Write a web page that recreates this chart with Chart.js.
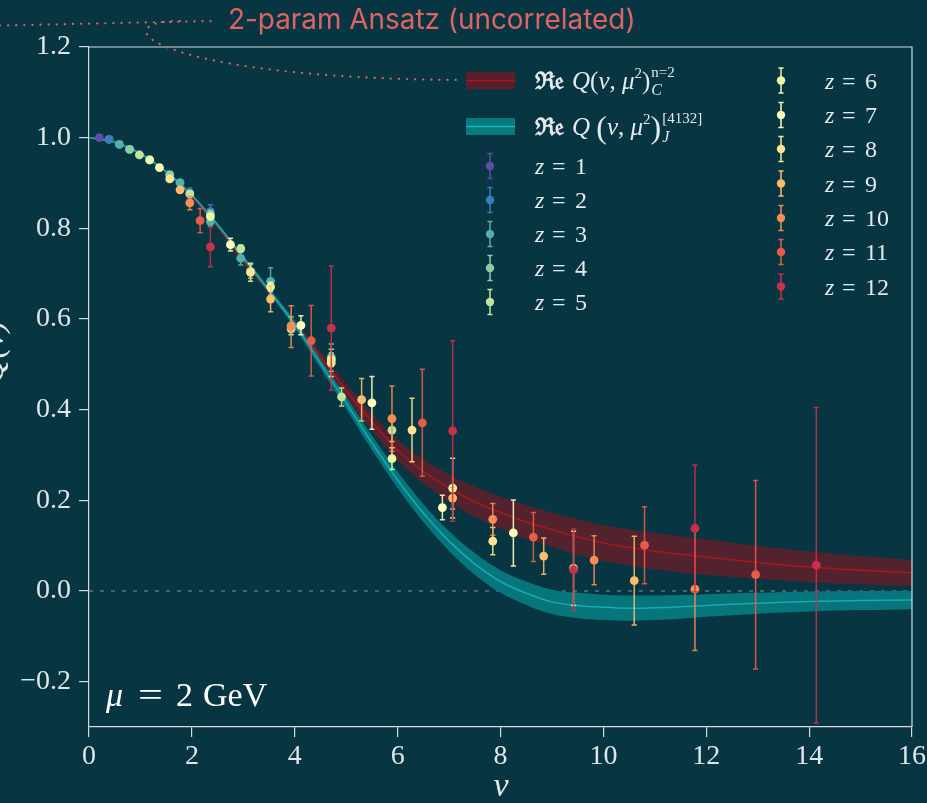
<!DOCTYPE html>
<html lang="es">
<head>
<meta charset="utf-8">
<title>Q(nu) - mu = 2 GeV</title>
<script src="https://cdn.jsdelivr.net/npm/chart.js@4.4.1/dist/chart.umd.min.js"></script>
<style>
  html, body { margin: 0; padding: 0; background: #073642; }
  #contenedor { width: 927px; height: 803px; }
</style>
</head>
<body>
<div id="contenedor"><canvas id="plot" width="927" height="803"></canvas></div>
<script>
// Ticks de los ejes
const xTicks = [0, 2, 4, 6, 8, 10, 12, 14, 16];
const yTicks = [-0.2, 0, 0.2, 0.4, 0.6, 0.8, 1.0, 1.2];

// Separaciones z = 1..12 y sus colores (Spectral)
const zLabels = ['1', '2', '3', '4', '5', '6', '7', '8', '9', '10', '11', '12'];
const zColors = ['#5e4fa2', '#3a7eb8', '#55b0ab', '#89cfa5', '#c1e59d', '#edf8a3',
                 '#fffcbc', '#fee491', '#fdbb6c', '#f88c51', '#e65d47', '#c8304c'];

// nu de cada punto, por z (momentos p = 1..6)
const nuZ = [
  [0.20, 0.39, 0.59, 0.79, 0.98, 1.18],
  [0.39, 0.79, 1.18, 1.57, 1.96, 2.36],
  [0.59, 1.18, 1.77, 2.36, 2.95, 3.53],
  [0.79, 1.57, 2.36, 3.14, 3.93, 4.71],
  [0.98, 1.96, 2.95, 3.93, 4.91, 5.89],
  [1.18, 2.36, 3.53, 4.71, 5.89, 7.07],
  [1.37, 2.75, 4.12, 5.50, 6.87, 8.25],
  [1.57, 3.14, 4.71, 6.28, 7.85, 9.42],
  [1.77, 3.53, 5.30, 7.07, 8.84, 10.60],
  [1.96, 3.93, 5.89, 7.85, 9.82, 11.78],
  [2.16, 4.32, 6.48, 8.64, 10.80, 12.96],
  [2.36, 4.71, 7.07, 9.42, 11.78, 14.14]
];
// valor central de Q
const qZ = [
  [1.000, 0.996, 0.985, 0.974, 0.962, 0.951],
  [0.996, 0.974, 0.951, 0.918, 0.878, 0.837],
  [0.985, 0.951, 0.901, 0.815, 0.734, 0.683],
  [0.974, 0.918, 0.830, 0.705, 0.585, 0.515],
  [0.962, 0.876, 0.755, 0.578, 0.428, 0.355],
  [0.951, 0.826, 0.671, 0.510, 0.292, 0.227],
  [0.934, 0.764, 0.586, 0.415, 0.184, 0.128],
  [0.909, 0.703, 0.503, 0.355, 0.110, 0.050],
  [0.885, 0.644, 0.422, 0.205, 0.077, 0.023],
  [0.856, 0.583, 0.380, 0.158, 0.068, 0.004],
  [0.817, 0.552, 0.371, 0.119, 0.101, 0.036],
  [0.759, 0.580, 0.353, 0.047, 0.138, 0.057]
];
// error de cada punto
const errZ = [
  [0.002, 0.002, 0.002, 0.003, 0.003, 0.003],
  [0.002, 0.003, 0.005, 0.008, 0.011, 0.015],
  [0.002, 0.004, 0.006, 0.010, 0.015, 0.030],
  [0.003, 0.005, 0.010, 0.015, 0.020, 0.030],
  [0.003, 0.005, 0.008, 0.012, 0.020, 0.025],
  [0.003, 0.006, 0.010, 0.015, 0.024, 0.066],
  [0.003, 0.014, 0.021, 0.058, 0.027, 0.073],
  [0.004, 0.020, 0.030, 0.070, 0.030, 0.082],
  [0.005, 0.028, 0.047, 0.024, 0.040, 0.098],
  [0.015, 0.046, 0.072, 0.035, 0.054, 0.135],
  [0.027, 0.078, 0.118, 0.054, 0.085, 0.208],
  [0.044, 0.137, 0.199, 0.090, 0.140, 0.348]
];

// Bandas de los ajustes
const bandNu   = [0, 0.5, 1, 1.5, 2, 2.5, 3, 3.5, 4, 4.5, 5, 5.5, 6, 6.5, 7, 7.5, 8, 8.5, 9, 9.5, 10, 10.5, 11, 11.5, 12, 13, 14, 15, 16];
const redMid   = [1.0, 0.990, 0.965, 0.924, 0.870, 0.803, 0.728, 0.660, 0.592, 0.517, 0.442, 0.373, 0.311, 0.264, 0.227, 0.197, 0.173, 0.152, 0.135, 0.119, 0.106, 0.096, 0.088, 0.081, 0.075, 0.063, 0.053, 0.046, 0.040];
const redHalf  = [0.002, 0.002, 0.003, 0.003, 0.003, 0.004, 0.005, 0.006, 0.008, 0.011, 0.015, 0.019, 0.023, 0.027, 0.030, 0.033, 0.035, 0.037, 0.038, 0.039, 0.039, 0.040, 0.040, 0.040, 0.039, 0.036, 0.034, 0.031, 0.029];
const tealMid  = [1.0, 0.990, 0.965, 0.925, 0.873, 0.808, 0.735, 0.663, 0.588, 0.502, 0.415, 0.327, 0.245, 0.172, 0.110, 0.060, 0.021, -0.005, -0.024, -0.032, -0.036, -0.038, -0.037, -0.035, -0.032, -0.027, -0.023, -0.021, -0.020];
const tealHalf = [0.002, 0.002, 0.003, 0.003, 0.003, 0.004, 0.005, 0.006, 0.008, 0.010, 0.013, 0.016, 0.018, 0.020, 0.022, 0.024, 0.025, 0.026, 0.027, 0.028, 0.028, 0.028, 0.027, 0.026, 0.025, 0.023, 0.022, 0.021, 0.020];

const AXIS = '#d3dbdd';
const TEXT = '#e4eaec';
const SERIF = '"Liberation Serif", "DejaVu Serif", serif';

let puntos = (nu, val) => nu.map((v, i) => ({x: v, y: val[i]}));
let desplazar = (mid, half, s) => bandNu.map((v, i) => ({x: v, y: mid[i] + s * half[i]}));

let datasets = [
  {type: 'line', data: desplazar(redMid, redHalf, -1), borderWidth: 0, pointRadius: 0, tension: 0.35, fill: false, order: 40},
  {type: 'line', data: desplazar(redMid, redHalf, 1), borderWidth: 0, pointRadius: 0, tension: 0.35, fill: '-1', backgroundColor: '#52232e', order: 40},
  {type: 'line', data: puntos(bandNu, redMid), borderColor: '#a8161f', borderWidth: 1.6, pointRadius: 0, tension: 0.35, fill: false, order: 39},
  {type: 'line', data: desplazar(tealMid, tealHalf, -1), borderWidth: 0, pointRadius: 0, tension: 0.35, fill: false, order: 38},
  {type: 'line', data: desplazar(tealMid, tealHalf, 1), borderWidth: 0, pointRadius: 0, tension: 0.35, fill: '-1', backgroundColor: '#07767c', order: 38},
  {type: 'line', data: puntos(bandNu, tealMid), borderColor: '#17aab0', borderWidth: 1.5, pointRadius: 0, tension: 0.35, fill: false, order: 37}
];

zLabels.forEach((z, k) => {
  datasets.push({
    type: 'scatter',
    label: 'z = ' + z,
    data: puntos(nuZ[k], qZ[k]),
    errores: errZ[k],
    backgroundColor: zColors[k],
    pointRadius: 4.4,
    pointBorderWidth: 0,
    order: 13 - (k + 1)
  });
});

// Barras de error: se dibujan justo antes de los puntos de cada serie
const barrasError = {
  id: 'barrasError',
  beforeDatasetDraw(chart, args) {
    const ds = chart.data.datasets[args.index];
    if (!ds.errores) return;
    const {ctx, scales: {x, y}} = chart;
    ctx.save();
    ctx.strokeStyle = ds.backgroundColor;
    ctx.globalAlpha = 0.9;
    ctx.lineWidth = 1.5;
    ds.data.forEach((p, i) => {
      const px = x.getPixelForValue(p.x);
      const top = y.getPixelForValue(p.y + ds.errores[i]);
      const bot = y.getPixelForValue(p.y - ds.errores[i]);
      ctx.beginPath();
      ctx.moveTo(px, top); ctx.lineTo(px, bot);
      ctx.moveTo(px - 2.6, top); ctx.lineTo(px + 2.6, top);
      ctx.moveTo(px - 2.6, bot); ctx.lineTo(px + 2.6, bot);
      ctx.stroke();
    });
    ctx.restore();
  }
};

let marcador = (ctx, x, y, color) => {
  ctx.save();
  ctx.strokeStyle = color;
  ctx.fillStyle = color;
  ctx.lineWidth = 1.5;
  ctx.beginPath();
  ctx.moveTo(x, y - 12.5); ctx.lineTo(x, y + 12.5);
  ctx.moveTo(x - 2.6, y - 12.5); ctx.lineTo(x + 2.6, y - 12.5);
  ctx.moveTo(x - 2.6, y + 12.5); ctx.lineTo(x + 2.6, y + 12.5);
  ctx.stroke();
  ctx.beginPath();
  ctx.arc(x, y, 4.2, 0, 2 * Math.PI);
  ctx.fill();
  ctx.restore();
};

let etiquetaZ = (ctx, x, y, z) => {
  ctx.fillStyle = TEXT;
  ctx.font = 'italic 24px ' + SERIF;
  ctx.fillText('z', x, y + 8);
  ctx.font = '24px ' + SERIF;
  ctx.fillText('=', x + 17, y + 8);
  ctx.fillText(z, x + 40, y + 8);
};

// Escribe trozos de texto uno tras otro: [texto, fuente, desplazamiento vertical]
let trozos = (ctx, x, y, lista) => {
  lista.forEach(([t, f, dy]) => {
    ctx.font = f;
    ctx.fillText(t, x, y + (dy || 0));
    x += ctx.measureText(t).width;
  });
  return x;
};

const decoracion = {
  id: 'decoracion',
  beforeDatasetsDraw(chart) {
    const {ctx, chartArea: a, scales: {y}} = chart;
    const y0 = y.getPixelForValue(0);
    ctx.save();
    ctx.strokeStyle = '#7d9197';
    ctx.lineWidth = 1;
    ctx.setLineDash([4, 7]);
    ctx.beginPath();
    ctx.moveTo(a.left, y0); ctx.lineTo(a.right, y0);
    ctx.stroke();
    ctx.restore();
  },
  afterDraw(chart) {
    const {ctx, chartArea: a} = chart;
    ctx.save();
    // ejes superior y derecho
    ctx.strokeStyle = AXIS;
    ctx.lineWidth = 1.2;
    ctx.beginPath();
    ctx.moveTo(a.left, a.top); ctx.lineTo(a.right, a.top); ctx.lineTo(a.right, a.bottom);
    ctx.stroke();

    // leyenda: bandas
    ctx.fillStyle = '#5a1f2b';
    ctx.fillRect(466, 72, 49, 17);
    ctx.strokeStyle = '#b3141c'; ctx.lineWidth = 1.6;
    ctx.beginPath(); ctx.moveTo(466, 80.5); ctx.lineTo(515, 80.5); ctx.stroke();
    ctx.fillStyle = '#077a80';
    ctx.fillRect(466, 118, 49, 17);
    ctx.strokeStyle = '#19b5bb';
    ctx.beginPath(); ctx.moveTo(466, 126.5); ctx.lineTo(515, 126.5); ctx.stroke();

    ctx.fillStyle = TEXT;
    ctx.textAlign = 'left';
    ctx.textBaseline = 'alphabetic';
    ctx.font = 'bold 24px "DejaVu Serif", serif';
    ctx.fillText('ℜ𝔢', 535, 89);
    ctx.fillText('ℜ𝔢', 535, 135);

    const it = 'italic 25px ' + SERIF, up = '25px ' + SERIF, sm = '15px ' + SERIF, smi = 'italic 16px ' + SERIF;
    let xr = trozos(ctx, 572, 89, [['Q', it], ['(', up], ['ν', it], [', ', up], ['μ', it], ['2', sm, -11], [')', up]]);
    trozos(ctx, xr + 1, 89, [['n=2', sm, -12]]);
    trozos(ctx, xr + 1, 89, [['C', smi, 6]]);

    let xt = trozos(ctx, 572, 135, [['Q', it], [' ', up], ['(', '32px ' + SERIF, 3], ['ν', it], [', ', up], ['μ', it], ['2', sm, -11], [')', '32px ' + SERIF, 3]]);
    trozos(ctx, xt + 1, 135, [['[4132]', sm, -12]]);
    trozos(ctx, xt + 1, 135, [['J', smi, 7]]);

    // leyenda: series z
    const filas1 = [166, 200, 234, 268, 302];
    const filas2 = [80.5, 115, 149, 183.5, 218, 252, 286.5];
    zLabels.forEach((z, k) => {
      const enPrimera = k < 5;
      const yy = enPrimera ? filas1[k] : filas2[k - 5];
      marcador(ctx, enPrimera ? 490 : 781, yy, zColors[k]);
      etiquetaZ(ctx, enPrimera ? 535 : 825, yy, z);
    });

    // mu = 2 GeV
    ctx.fillStyle = '#ffffff';
    ctx.font = 'italic 34px ' + SERIF;
    ctx.fillText('μ', 106, 706);
    ctx.font = '34px ' + SERIF;
    ctx.save();
    ctx.translate(138, 706);
    ctx.scale(1.3, 1);
    ctx.fillText('=', 0, 0);
    ctx.restore();
    ctx.fillText('2', 176, 706);
    ctx.fillText('GeV', 203, 706);

    // titulo eje x
    ctx.fillStyle = TEXT;
    ctx.font = 'italic 34px ' + SERIF;
    ctx.textAlign = 'center';
    ctx.fillText('ν', 501, 796);

    // titulo eje y (cortado en el borde)
    ctx.save();
    ctx.translate(3, 352);
    ctx.rotate(-Math.PI / 2);
    ctx.font = 'italic 34px ' + SERIF;
    ctx.textAlign = 'center';
    ctx.fillText('Q(ν)', 0, 0);
    ctx.restore();

    // anotacion 2-param
    const texto = '2-param Ansatz (uncorrelated)';
    let size = 26;
    ctx.font = size + 'px Inter, "Open Sans", sans-serif';
    size = size * 408 / ctx.measureText(texto).width;
    ctx.font = size.toFixed(1) + 'px Inter, "Open Sans", sans-serif';
    ctx.textAlign = 'left';
    ctx.fillStyle = '#de6464';
    ctx.fillText(texto, 228, 29);

    ctx.strokeStyle = '#de6464';
    ctx.lineWidth = 2.2;
    ctx.lineCap = 'round';
    ctx.setLineDash([0.1, 8]);
    ctx.beginPath();
    ctx.moveTo(0, 25.5); ctx.lineTo(213, 21);
    ctx.stroke();
    ctx.beginPath();
    ctx.moveTo(180, 21);
    ctx.bezierCurveTo(100, 21, 150, 78, 460, 80);
    ctx.stroke();
    ctx.restore();
  }
};

const fmt = v => (v < 0 ? '\u2212' : '') + Math.abs(v).toFixed(1);

new Chart(document.getElementById('plot'), {
  data: {datasets: datasets},
  options: {
    responsive: false,
    animation: false,
    devicePixelRatio: 1,
    layout: {padding: {left: 0, right: 15, top: 47, bottom: 0}},
    plugins: {legend: {display: false}, tooltip: {enabled: false}},
    scales: {
      x: {
        type: 'linear', min: 0, max: 16,
        afterBuildTicks: s => { s.ticks = xTicks.map(v => ({value: v})); },
        afterFit: s => { s.height = 76; s.paddingLeft = 0; s.paddingRight = 0; },
        ticks: {color: '#dfe6e8', font: {family: SERIF, size: 28}, padding: 3, maxRotation: 0, callback: v => String(v)},
        grid: {display: true, drawOnChartArea: false, drawTicks: true, tickLength: 10, color: AXIS, lineWidth: 1.2},
        border: {display: true, color: AXIS, width: 1.2}
      },
      y: {
        type: 'linear', min: -0.3, max: 1.2,
        afterBuildTicks: s => { s.ticks = yTicks.map(v => ({value: v})); },
        afterFit: s => { s.width = 89; s.paddingTop = 0; s.paddingBottom = 0; },
        ticks: {color: '#dfe6e8', font: {family: SERIF, size: 28}, padding: 8, callback: v => fmt(v)},
        grid: {display: true, drawOnChartArea: false, drawTicks: true, tickLength: 10, color: AXIS, lineWidth: 1.2},
        border: {display: true, color: AXIS, width: 1.2}
      }
    }
  },
  plugins: [barrasError, decoracion]
});
</script>
</body>
</html>
